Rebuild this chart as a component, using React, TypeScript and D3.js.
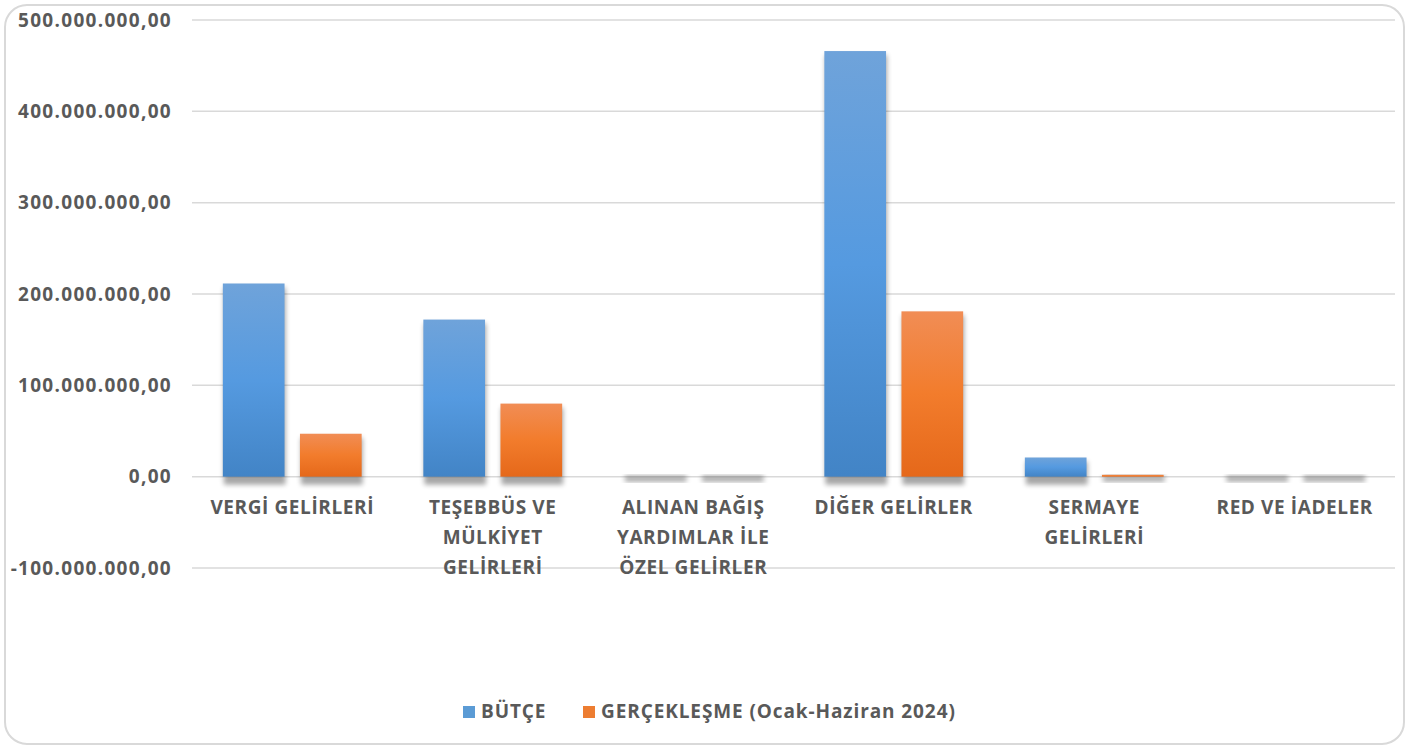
import React from "react";
import * as d3 from "d3";

const categories: string[][] = [
  ["VERGİ GELİRLERİ"],
  ["TEŞEBBÜS VE", "MÜLKİYET", "GELİRLERİ"],
  ["ALINAN BAĞIŞ", "YARDIMLAR İLE", "ÖZEL GELİRLER"],
  ["DİĞER GELİRLER"],
  ["SERMAYE", "GELİRLERİ"],
  ["RED VE İADELER"],
];
const butce: number[] = [211500000, 172000000, 0, 466000000, 21000000, 0];
const gerceklesme: number[] = [47000000, 80000000, 0, 181000000, 2000000, 0];
const seriesNames: string[] = ["BÜTÇE", "GERÇEKLEŞME (Ocak-Haziran 2024)"];
const yTicks: number[] = [-100000000, 0, 100000000, 200000000, 300000000, 400000000, 500000000];

const W = 1410;
const H = 749;
const FONT = "'Open Sans', Lato, sans-serif";
const TEXT = "#595959";
const FS = 19;

function fmt(v: number): string {
  const s = d3.format(",.2f")(v);
  return s.replace(/,/g, "#").replace(/\./g, ",").replace(/#/g, ".").replace("−", "-");
}

export default function App() {
  const plotLeft = 192;
  const plotRight = 1395;
  const y = d3.scaleLinear().domain([-100000000, 500000000]).range([568, 20]);
  const x0 = d3
    .scaleBand<number>()
    .domain(categories.map((_, i) => i))
    .range([plotLeft, plotRight])
    .paddingInner(0)
    .paddingOuter(0);
  const x1 = d3
    .scaleBand<number>()
    .domain([0, 1])
    .range([0, x0.bandwidth()])
    .paddingInner(0.2)
    .paddingOuter(0.4);
  const series = [butce, gerceklesme];
  const fills = ["url(#gBlue)", "url(#gOrange)"];
  const legendColors = ["#5b9bd5", "#ed7d31"];
  const y0 = y(0);

  return (
    <svg width={W} height={H} style={{ position: "absolute", left: 0, top: 0, background: "#fff" }}>
      <defs>
        <linearGradient id="gBlue" x1="0" y1="0" x2="0" y2="1">
          <stop offset="0" stopColor="#6fa3da" />
          <stop offset="0.5" stopColor="#559ae0" />
          <stop offset="1" stopColor="#4284c6" />
        </linearGradient>
        <linearGradient id="gOrange" x1="0" y1="0" x2="0" y2="1">
          <stop offset="0" stopColor="#f18d55" />
          <stop offset="0.5" stopColor="#f27c2c" />
          <stop offset="1" stopColor="#e5681a" />
        </linearGradient>
        <filter id="blur" x="-20%" y="-20%" width="140%" height="140%">
          <feGaussianBlur stdDeviation="2.5" />
        </filter>
      </defs>
      <rect x={5} y={5} width={1399} height={739} rx={22} ry={22} fill="#fff" stroke="#d9d9d9" strokeWidth={2} />
      {yTicks.map((t) => (
        <g key={t}>
          <line x1={plotLeft} x2={plotRight} y1={y(t)} y2={y(t)} stroke="#d9d9d9" strokeWidth={1.5} />
          <text
            x={172}
            y={y(t)}
            dy="0.35em"
            textAnchor="end"
            fontFamily={FONT}
            fontWeight="bold"
            fontSize={FS}
            letterSpacing={1.3}
            fill={TEXT}
          >
            {fmt(t)}
          </text>
        </g>
      ))}
      {categories.map((_, i) =>
        series.map((s, k) => {
          const bx = (x0(i) as number) + (x1(k) as number);
          const bw = x1.bandwidth();
          const top = y(Math.max(0, s[i]));
          const h = Math.max(0, y0 - top);
          return (
            <g key={`${i}-${k}`}>
              <rect
                x={bx + 1}
                y={Math.min(top + 4, y0 - 1)}
                width={bw}
                height={Math.max(h, 2) + 4}
                fill="#000"
                opacity={0.35}
                filter="url(#blur)"
              />
              {h > 0 && <rect x={bx} y={top} width={bw} height={h} fill={fills[k]} />}
            </g>
          );
        })
      )}
      {categories.map((lines, i) => {
        const cx = (x0(i) as number) + x0.bandwidth() / 2;
        return (
          <text
            key={i}
            textAnchor="middle"
            fontFamily={FONT}
            fontWeight="bold"
            fontSize={FS}
            letterSpacing={0.6}
            fill={TEXT}
          >
            {lines.map((ln, j) => (
              <tspan key={j} x={cx} y={514 + j * 30}>
                {ln}
              </tspan>
            ))}
          </text>
        );
      })}
      {seriesNames.map((n, k) => {
        const lx = k === 0 ? 463 : 583;
        return (
          <g key={n}>
            <rect x={lx} y={706} width={12} height={12} fill={legendColors[k]} />
            <text
              x={lx + 18}
              y={718}
              fontFamily={FONT}
              fontWeight="bold"
              fontSize={FS}
              letterSpacing={0.9}
              fill={TEXT}
            >
              {n}
            </text>
          </g>
        );
      })}
    </svg>
  );
}
